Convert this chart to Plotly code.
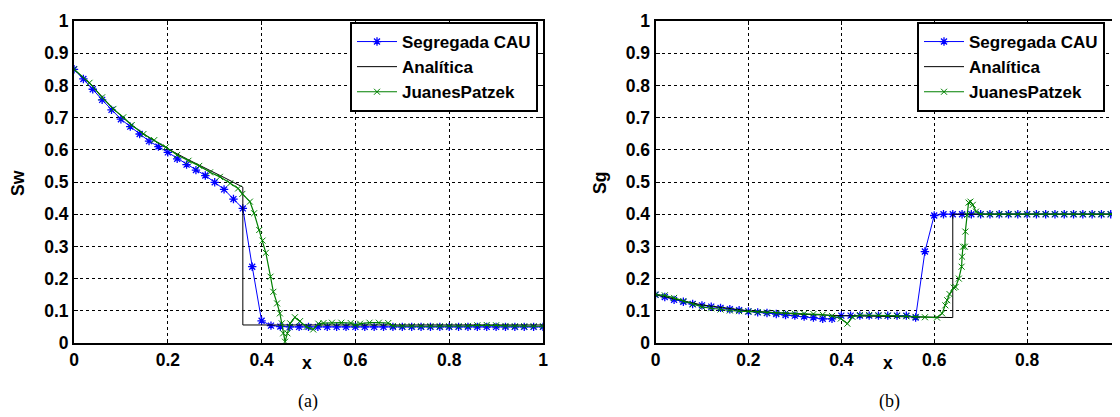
import plotly.graph_objects as go

# ---------------- data: panel (a) Sw ----------------
cau_x = [round(0.02 * i, 2) for i in range(51)]
cau_sw = [0.85, 0.82, 0.788, 0.755, 0.724, 0.695, 0.672, 0.649, 0.627, 0.61,
          0.592, 0.572, 0.554, 0.537, 0.52, 0.499, 0.477, 0.447, 0.418, 0.237,
          0.069, 0.054, 0.051, 0.05, 0.05, 0.05, 0.05, 0.05, 0.05, 0.05,
          0.05, 0.05, 0.05, 0.05, 0.05, 0.05, 0.05, 0.05, 0.05, 0.05,
          0.05, 0.05, 0.05, 0.05, 0.05, 0.05, 0.05, 0.05, 0.05, 0.05, 0.05]

ana_sw_x = [0, 0.04, 0.08, 0.12, 0.16, 0.2, 0.24, 0.28, 0.32, 0.36, 0.36, 1.0]
ana_sw_y = [0.85, 0.797, 0.732, 0.68, 0.638, 0.603, 0.572, 0.544, 0.514, 0.484, 0.056, 0.056]

jp_sw_x = [0, 0.033, 0.06, 0.084, 0.105, 0.123, 0.148, 0.171, 0.196, 0.22,
           0.244, 0.267, 0.29, 0.311, 0.333, 0.35, 0.359, 0.375, 0.384, 0.395,
           0.402, 0.409, 0.419, 0.425, 0.433, 0.439, 0.443, 0.446, 0.45, 0.455,
           0.461, 0.471, 0.482, 0.496, 0.51, 0.521, 0.532, 0.55, 0.57, 0.59,
           0.60, 0.61, 0.63, 0.65, 0.67, 0.68, 0.70, 0.72, 0.74, 0.76,
           0.78, 0.80, 0.82, 0.84, 0.86, 0.88, 0.90, 0.92, 0.94, 0.96, 0.98, 1.0]
jp_sw_y = [0.85, 0.808, 0.763, 0.727, 0.701, 0.677, 0.649, 0.63, 0.608, 0.584,
           0.566, 0.55, 0.53, 0.516, 0.496, 0.48, 0.463, 0.439, 0.403, 0.351,
           0.318, 0.28, 0.206, 0.159, 0.123, 0.092, 0.061, 0.03, 0.004, 0.03,
           0.061, 0.08, 0.068, 0.05, 0.042, 0.06, 0.062, 0.063, 0.063, 0.062,
           0.056, 0.06, 0.063, 0.063, 0.062, 0.053, 0.052, 0.052, 0.052, 0.052,
           0.052, 0.052, 0.052, 0.053, 0.055, 0.056, 0.055, 0.053, 0.052, 0.052, 0.052, 0.052]

# ---------------- data: panel (b) Sg ----------------
cau_sg = [0.15, 0.143, 0.134, 0.128, 0.121, 0.117, 0.113, 0.109, 0.105, 0.102,
          0.098, 0.095, 0.093, 0.09, 0.087, 0.085, 0.082, 0.079, 0.075, 0.075,
          0.085, 0.085, 0.085, 0.085, 0.085, 0.085, 0.085, 0.085, 0.079, 0.284,
          0.396, 0.4, 0.4, 0.4, 0.4, 0.4, 0.4, 0.4, 0.4, 0.4,
          0.4, 0.4, 0.4, 0.4, 0.4, 0.4, 0.4, 0.4, 0.4, 0.4, 0.4]

ana_sg_x = [0, 0.1, 0.2, 0.3, 0.4, 0.5, 0.64, 0.64, 1.0]
ana_sg_y = [0.15, 0.118, 0.1, 0.09, 0.085, 0.082, 0.079, 0.4, 0.4]

jp_sg_x = [0, 0.02, 0.04, 0.06, 0.08, 0.10, 0.12, 0.14, 0.16, 0.18,
           0.20, 0.22, 0.24, 0.26, 0.28, 0.30, 0.32, 0.34, 0.36, 0.38,
           0.399, 0.413, 0.424, 0.44, 0.46, 0.48, 0.50, 0.52, 0.54, 0.56,
           0.58, 0.606, 0.617, 0.624, 0.628, 0.633, 0.642, 0.646, 0.653, 0.659,
           0.66, 0.662, 0.666, 0.667, 0.671, 0.674, 0.678, 0.683, 0.69, 0.70,
           0.72, 0.74, 0.76, 0.78, 0.80, 0.82, 0.84, 0.86, 0.88, 0.90,
           0.92, 0.94, 0.96, 0.98, 1.0]
jp_sg_y = [0.15, 0.148, 0.14, 0.13, 0.12, 0.112, 0.108, 0.104, 0.101, 0.099,
           0.098, 0.096, 0.094, 0.093, 0.092, 0.091, 0.091, 0.09, 0.088, 0.084,
           0.076, 0.06, 0.081, 0.087, 0.087, 0.086, 0.085, 0.084, 0.083, 0.081,
           0.08, 0.079, 0.092, 0.117, 0.133, 0.152, 0.172, 0.174, 0.2, 0.237,
           0.268, 0.299, 0.299, 0.346, 0.398, 0.436, 0.439, 0.429, 0.408, 0.4,
           0.4, 0.4, 0.4, 0.4, 0.4, 0.4, 0.4, 0.4, 0.4, 0.4,
           0.4, 0.4, 0.4, 0.4, 0.4]

names = ["Segregada CAU", "Analítica", "JuanesPatzek"]
captions = ["(a)", "(b)"]
ylabels = ["Sw", "Sg"]

# the page body has an 8px margin; size the figure to fill the rest of the window
OFF = 8
W, H = 1120 - OFF, 417 - OFF


def fx(p):
    return (p - OFF) / W


def fy(p):
    return 1 - (p - OFF) / H


BLUE, GREEN = "#0000FF", "#008000"

fig = go.Figure()
panels = [
    ("x", "y", "legend", cau_sw, ana_sw_x, ana_sw_y, jp_sw_x, jp_sw_y),
    ("x2", "y2", "legend2", cau_sg, ana_sg_x, ana_sg_y, jp_sg_x, jp_sg_y),
]
for xa, ya, lg, cy, ax, ay, jx, jy in panels:
    fig.add_trace(go.Scatter(x=cau_x, y=cy, name=names[0], xaxis=xa, yaxis=ya, legend=lg,
                             mode="lines+markers", line=dict(color=BLUE, width=1),
                             marker=dict(symbol="asterisk-open", size=7,
                                         line=dict(color=BLUE, width=1.3))))
    fig.add_trace(go.Scatter(x=ax, y=ay, name=names[1], xaxis=xa, yaxis=ya, legend=lg,
                             mode="lines", line=dict(color="black", width=1)))
    fig.add_trace(go.Scatter(x=jx, y=jy, name=names[2], xaxis=xa, yaxis=ya, legend=lg,
                             mode="lines+markers", line=dict(color=GREEN, width=1.2),
                             marker=dict(symbol="x-thin-open", size=6,
                                         line=dict(color=GREEN, width=1))))

tickfont = dict(family="Liberation Sans", size=17.5, color="black", weight="bold")
ydom = [fy(343), fy(21)]
common = dict(range=[0, 1], showgrid=True, gridcolor="black", griddash="dot", gridwidth=1,
              zeroline=False, showline=True, linecolor="black", linewidth=2,
              mirror="allticks", ticks="inside", ticklen=4, tickcolor="black",
              tickfont=tickfont, automargin=False)
fig.update_layout(
    template="none",
    width=W, height=H, autosize=False,
    margin=dict(l=0, r=0, t=0, b=0, pad=0),
    paper_bgcolor="white", plot_bgcolor="white",
    showlegend=True,
    xaxis=dict(domain=[fx(74), fx(543)], dtick=0.2, anchor="y", **common),
    yaxis=dict(domain=ydom, dtick=0.1, anchor="x", **common),
    xaxis2=dict(domain=[fx(655.5), 1.0], dtick=0.2, anchor="y2", **common),
    yaxis2=dict(domain=ydom, dtick=0.1, anchor="x2", **common),
)
legfont = dict(family="Liberation Sans", size=17, color="black", weight="bold")
fig.update_layout(
    legend=dict(x=fx(538), y=fy(22), xanchor="right", yanchor="top",
                bordercolor="black", borderwidth=2, bgcolor="white", font=legfont,
                tracegroupgap=0, itemwidth=40),
    legend2=dict(x=fx(917), y=fy(22), xanchor="left", yanchor="top",
                 bordercolor="black", borderwidth=2, bgcolor="white", font=legfont,
                 tracegroupgap=0, itemwidth=40),
)

annots = []
for cx, lab in [(307, "x"), (888, "x")]:
    annots.append(dict(x=fx(cx), y=fy(363), xref="paper", yref="paper", text=lab,
                       showarrow=False, font=tickfont, xanchor="center", yanchor="middle"))
for cx, lab in [(18, ylabels[0]), (600, ylabels[1])]:
    annots.append(dict(x=fx(cx), y=fy(183), xref="paper", yref="paper", text=lab,
                       textangle=-90, showarrow=False, font=tickfont,
                       xanchor="center", yanchor="middle"))
for cx, lab in [(308, captions[0]), (889, captions[1])]:
    annots.append(dict(x=fx(cx), y=fy(401), xref="paper", yref="paper", text=lab,
                       showarrow=False,
                       font=dict(family="Liberation Serif", size=18, color="black"),
                       xanchor="center", yanchor="middle"))
fig.update_layout(annotations=annots)

fig.write_html("out.html")
